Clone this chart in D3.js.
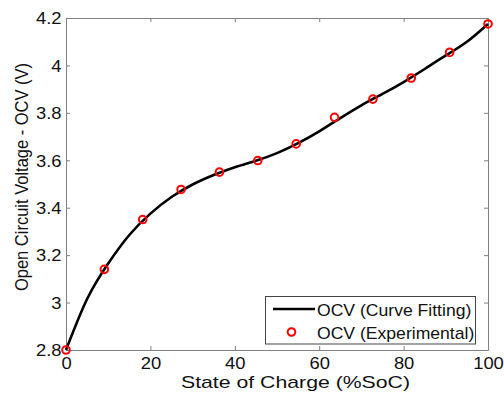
<!DOCTYPE html>
<html>
<head>
<meta charset="utf-8">
<script src="https://cdn.jsdelivr.net/npm/d3@7"></script>
<style>
  body { margin: 0; background: #fff; }
  text { font-family: "Liberation Sans", Arial, sans-serif; fill: #111; }
</style>
</head>
<body>
<div id="chart"></div>
<script>
// experimental OCV points
var socExp = [0, 9.09, 18.18, 27.27, 36.36, 45.45, 54.55, 63.64, 72.73, 81.82, 90.91, 100];
var ocvExp = [2.80, 3.14, 3.35, 3.477, 3.55, 3.599, 3.669, 3.781, 3.858, 3.947, 4.055, 4.175];

// fitted curve
var socFit = [0, 5, 10, 15, 20, 25, 30, 35, 40, 45, 50, 55, 60, 65, 70, 75, 80, 85, 90, 95, 100];
var ocvFit = [2.80, 3.015, 3.165, 3.285, 3.375, 3.445, 3.498, 3.538, 3.571, 3.598, 3.630, 3.672,
              3.722, 3.778, 3.832, 3.880, 3.930, 3.985, 4.042, 4.100, 4.175];

var xTicks = [0, 20, 40, 60, 80, 100];
var yTicks = [2.8, 3, 3.2, 3.4, 3.6, 3.8, 4, 4.2];
var legendLabels = ["OCV (Curve Fitting)", "OCV (Experimental)"];

var width = 504, height = 396;
var margin = {top: 18, right: 16, bottom: 46, left: 66};
var stretch = 1.15;

var svg = d3.select("#chart")
    .append("svg")
    .attr("width", width)
    .attr("height", height);

var x = d3.scaleLinear().domain([0, 100]).range([margin.left, width - margin.right]);
var y = d3.scaleLinear().domain([2.8, 4.2]).range([height - margin.bottom, margin.top]);

var axisColor = "#808080";

// bottom axis with labels
var gx = svg.append("g")
    .attr("transform", "translate(0," + y(2.8) + ")")
    .call(d3.axisBottom(x).tickValues(xTicks).tickSizeInner(-4).tickSizeOuter(0)
        .tickFormat(d3.format("d")));
gx.selectAll("text")
    .attr("y", 8).attr("dy", "0.71em")
    .attr("transform", "scale(" + stretch + ",1)")
    .style("font-size", "16px");

// top axis, ticks only
svg.append("g")
    .attr("transform", "translate(0," + y(4.2) + ")")
    .call(d3.axisTop(x).tickValues(xTicks).tickSizeInner(-4).tickSizeOuter(0).tickFormat(""));

// left axis with labels
var gy = svg.append("g")
    .attr("transform", "translate(" + x(0) + ",0)")
    .call(d3.axisLeft(y).tickValues(yTicks).tickSizeInner(-4).tickSizeOuter(0)
        .tickFormat(function(d) { return d3.format("")(+d.toFixed(1)); }));
gy.selectAll("text")
    .attr("x", -4.5 / stretch)
    .attr("dy", "0.36em")
    .attr("transform", "scale(" + stretch + ",1)")
    .style("font-size", "16px");

// right axis, ticks only
svg.append("g")
    .attr("transform", "translate(" + x(100) + ",0)")
    .call(d3.axisRight(y).tickValues(yTicks).tickSizeInner(-4).tickSizeOuter(0).tickFormat(""));

svg.selectAll(".domain, .tick line").attr("stroke", axisColor);
svg.selectAll(".tick text").attr("fill", "#111");

// curve fit line
var fitData = socFit.map(function(s, i) { return {soc: s, ocv: ocvFit[i]}; });
var line = d3.line()
    .x(function(d) { return x(d.soc); })
    .y(function(d) { return y(d.ocv); })
    .curve(d3.curveNatural);

svg.append("path")
    .datum(fitData)
    .attr("fill", "none")
    .attr("stroke", "#000")
    .attr("stroke-width", 2.6)
    .attr("d", line);

// experimental markers
var expData = socExp.map(function(s, i) { return {soc: s, ocv: ocvExp[i]}; });
svg.selectAll(".pt")
    .data(expData)
    .enter()
    .append("circle")
    .attr("class", "pt")
    .attr("cx", function(d) { return x(d.soc); })
    .attr("cy", function(d) { return y(d.ocv); })
    .attr("r", 3.8)
    .attr("fill", "none")
    .attr("stroke", "#ff0000")
    .attr("stroke-width", 2);

// axis labels
svg.append("text")
    .attr("transform", "translate(295.5,388) scale(1.25,1)")
    .attr("text-anchor", "middle")
    .style("font-size", "17px")
    .text("State of Charge (%SoC)");

svg.append("text")
    .attr("transform", "translate(28,177) scale(1.15,1) rotate(-90)")
    .attr("text-anchor", "middle")
    .style("font-size", "16.5px")
    .text("Open Circuit Voltage - OCV (V)");

// legend
var legend = svg.append("g");
legend.append("rect")
    .attr("x", 265.5).attr("y", 296.5)
    .attr("width", 210).attr("height", 47.5)
    .attr("fill", "#fff")
    .attr("stroke", "#444")
    .attr("stroke-width", 1);

legend.append("line")
    .attr("x1", 273).attr("x2", 315)
    .attr("y1", 309).attr("y2", 309)
    .attr("stroke", "#000").attr("stroke-width", 2.6);

legend.append("circle")
    .attr("cx", 291.5).attr("cy", 332)
    .attr("r", 3.8)
    .attr("fill", "none")
    .attr("stroke", "#ff0000")
    .attr("stroke-width", 2);

legend.selectAll(".lt")
    .data(legendLabels)
    .enter()
    .append("text")
    .attr("class", "lt")
    .attr("transform", function(d, i) { return "translate(317," + (316 + i * 22.5) + ") scale(1.1,1)"; })
    .style("font-size", "16px")
    .text(function(d) { return d; });
</script>
</body>
</html>
